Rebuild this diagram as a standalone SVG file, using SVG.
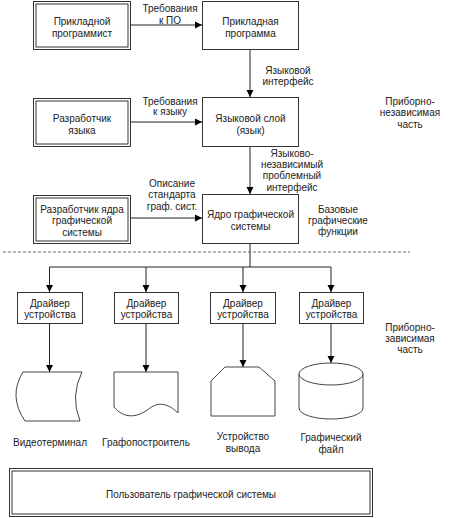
<svg xmlns="http://www.w3.org/2000/svg" width="450" height="518" viewBox="0 0 450 518">
<defs>
<marker id="ah" markerWidth="8" markerHeight="8" refX="7" refY="4" orient="auto" markerUnits="userSpaceOnUse">
<path d="M0,0.5 L7,4 L0,7.5 Z" fill="#000"/>
</marker>
<style>
text{font-family:"Liberation Sans",Arial,sans-serif;font-size:10px;fill:#222;text-anchor:middle}
.box{fill:#fff;stroke:#333;stroke-width:1}
.shape{fill:#fff;stroke:#444;stroke-width:1}
.ln{fill:none;stroke:#222;stroke-width:1}
.arr{fill:none;stroke:#222;stroke-width:1;marker-end:url(#ah)}
.dash{fill:none;stroke:#666;stroke-width:1;stroke-dasharray:3,2}
</style>
</defs>
<rect width="450" height="518" fill="#fff"/>

<g id="connectors">
<line class="arr" x1="130" y1="25" x2="202" y2="25"/>
<line class="arr" x1="130" y1="122" x2="202" y2="122"/>
<line class="arr" x1="130" y1="218" x2="202" y2="218"/>
<line class="arr" x1="250" y1="49" x2="250" y2="97"/>
<line class="arr" x1="250" y1="146" x2="250" y2="194"/>
<polyline class="ln" points="250,243 250,267"/>
<polyline class="ln" points="49.5,267 331,267"/>
<line class="arr" x1="49.5" y1="267" x2="49.5" y2="292"/>
<line class="arr" x1="146" y1="267" x2="146" y2="292"/>
<line class="arr" x1="243" y1="267" x2="243" y2="292"/>
<line class="arr" x1="331" y1="267" x2="331" y2="292"/>
<line class="arr" x1="49.5" y1="323" x2="49.5" y2="372"/>
<line class="arr" x1="146" y1="323" x2="146" y2="372"/>
<line class="arr" x1="243" y1="323" x2="243" y2="367"/>
<line class="arr" x1="331" y1="323" x2="331" y2="363"/>
<text x="170" y="11.5">Требования</text>
<text x="170" y="23.5">к ПО</text>
<text x="170" y="104.5">Требования</text>
<text x="170" y="115">к языку</text>
<text x="172" y="186.5">Описание</text>
<text x="172" y="198">стандарта</text>
<text x="172" y="210">граф. сист.</text>
<text x="288" y="73.5">Языковой</text>
<text x="288" y="84.5">интерфейс</text>
<text x="292" y="156.5">Языково-</text>
<text x="292" y="167.5">независимый</text>
<text x="292" y="179">проблемный</text>
<text x="292" y="190.5">интерфейс</text>
</g>

<line class="dash" x1="3" y1="252" x2="410" y2="252"/>

<g id="n-prog">
<rect class="box" x="33.5" y="1.5" width="97" height="48"/>
<rect class="box" x="36" y="4" width="92" height="43"/>
<text x="82" y="24.5">Прикладной</text>
<text x="82" y="36.5">программист</text>
</g>
<g id="n-app">
<rect class="box" x="202.5" y="1.5" width="96" height="48"/>
<text x="250.5" y="24.5">Прикладная</text>
<text x="250.5" y="36.5">программа</text>
</g>
<g id="n-langdev">
<rect class="box" x="33.5" y="98.5" width="97" height="48"/>
<rect class="box" x="36" y="101" width="92" height="43"/>
<text x="82" y="121.5">Разработчик</text>
<text x="82" y="133.5">языка</text>
</g>
<g id="n-lang">
<rect class="box" x="202.5" y="97.5" width="96" height="49"/>
<text x="250.5" y="121.5">Языковой слой</text>
<text x="250.5" y="133.5">(язык)</text>
</g>
<g id="n-coredev">
<rect class="box" x="33.5" y="195.5" width="97" height="48"/>
<rect class="box" x="36" y="198" width="92" height="43"/>
<text x="82" y="212.5">Разработчик ядра</text>
<text x="82" y="223.5">графической</text>
<text x="82" y="235.5">системы</text>
</g>
<g id="n-core">
<rect class="box" x="202.5" y="194.5" width="96" height="49"/>
<text x="250.5" y="217.5">Ядро графической</text>
<text x="250.5" y="229.5">системы</text>
</g>
<g id="n-base">
<text x="338" y="212.5">Базовые</text>
<text x="338" y="223.5">графические</text>
<text x="338" y="234.5">функции</text>
</g>
<g id="n-indep">
<text x="410" y="104.5">Приборно-</text>
<text x="410" y="116">независимая</text>
<text x="410" y="128">часть</text>
</g>
<g id="n-dep">
<text x="410" y="330.5">Приборно-</text>
<text x="410" y="341.5">зависимая</text>
<text x="410" y="352.5">часть</text>
</g>

<g id="n-drv1">
<rect class="box" x="17.5" y="292.5" width="65" height="31"/>
<text x="50" y="306.5">Драйвер</text>
<text x="50" y="317.5">устройства</text>
</g>
<g id="n-drv2">
<rect class="box" x="114.5" y="292.5" width="64" height="31"/>
<text x="146.5" y="306.5">Драйвер</text>
<text x="146.5" y="317.5">устройства</text>
</g>
<g id="n-drv3">
<rect class="box" x="210.5" y="292.5" width="65" height="31"/>
<text x="243" y="306.5">Драйвер</text>
<text x="243" y="317.5">устройства</text>
</g>
<g id="n-drv4">
<rect class="box" x="299.5" y="292.5" width="64" height="31"/>
<text x="331.5" y="306.5">Драйвер</text>
<text x="331.5" y="317.5">устройства</text>
</g>

<g id="n-video">
<path class="shape" d="M23,372 L82,372 Q70,396 80,421 L25,421 Q8,396 23,372 Z"/>
<text x="50" y="445.5">Видеотерминал</text>
</g>
<g id="n-plotter">
<path class="shape" d="M114,372 H178 V413 C168,403 158,402 150,408 C140,416 126,421 114,407 Z"/>
<text x="146" y="445.5">Графопостроитель</text>
</g>
<g id="n-output">
<polygon class="shape" points="225,367 259,367 275,381 275,416 211,416 211,381"/>
<text x="243" y="440">Устройство</text>
<text x="243" y="451.5">вывода</text>
</g>
<g id="n-file">
<path class="shape" d="M299,374 A32,11 0 0 1 363,374 V408 A32,11 0 0 1 299,408 Z"/>
<path class="shape" d="M299,374 A32,11 0 0 0 363,374" fill="none"/>
<text x="331" y="440.5">Графический</text>
<text x="331" y="453">файл</text>
</g>

<g id="n-user">
<rect class="box" x="9.5" y="468.5" width="363" height="48"/>
<rect class="box" x="12" y="471" width="358" height="43"/>
<text x="191" y="497.5">Пользователь графической системы</text>
</g>
</svg>
